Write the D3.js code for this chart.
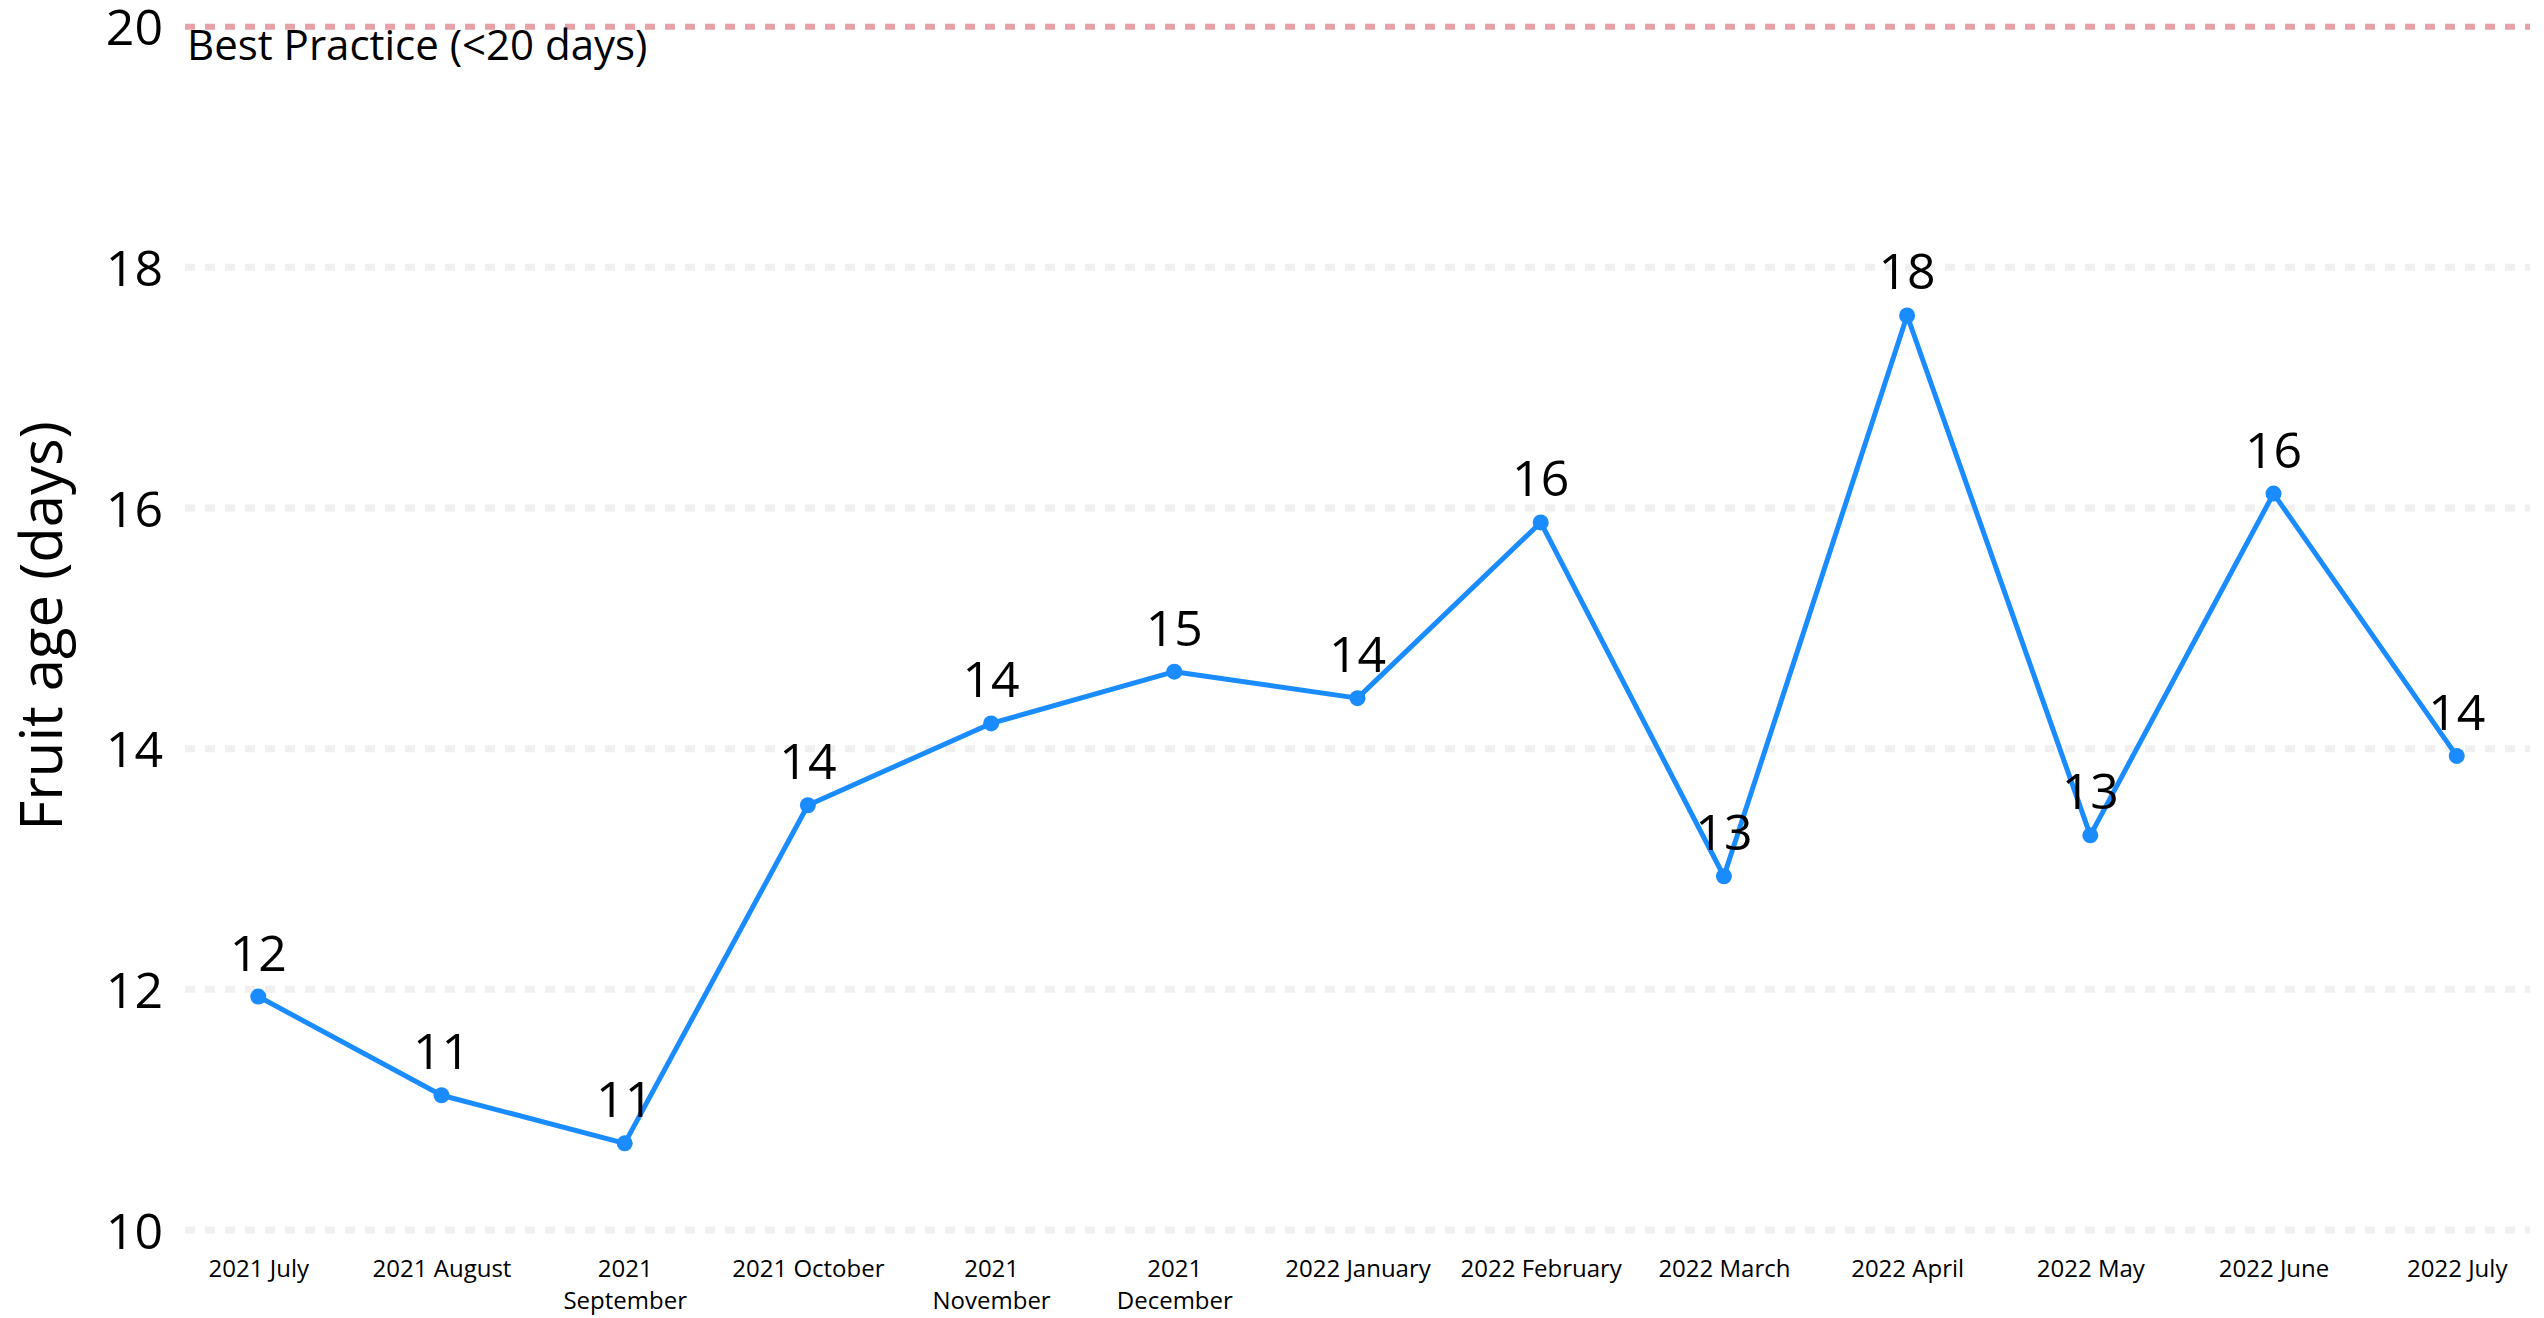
<!DOCTYPE html>
<html>
<head>
<meta charset="utf-8">
<script src="https://cdn.jsdelivr.net/npm/d3@7"></script>
<style>
  html, body { margin: 0; padding: 0; background: #ffffff; }
  svg { display: block; }
  text { font-family: "Open Sans", "Noto Sans", sans-serif; fill: #000; }
</style>
</head>
<body>
<script>
// ---- data ----
const categories = ["2021 July", "2021 August", "2021 September", "2021 October", "2021 November",
  "2021 December", "2022 January", "2022 February", "2022 March", "2022 April", "2022 May",
  "2022 June", "2022 July"];
const values = [11.94, 11.12, 10.72, 13.53, 14.21, 14.64, 14.42, 15.88, 12.94, 17.60, 13.28, 16.12, 13.94];
const yTicks = [10, 12, 14, 16, 18, 20];
const bestPractice = 20;
const bestPracticeLabel = "Best Practice (<20 days)";
const yTitle = "Fruit age (days)";

// ---- layout ----
const W = 2544, H = 1318;
const mLeft = 185, mRight = 2530, mTop = 26.7, mBottom = 1230;

const svg = d3.select("body").append("svg").attr("width", W).attr("height", H);

const x = d3.scalePoint().domain(categories).range([mLeft, mRight]).padding(0.4);
const y = d3.scaleLinear().domain([10, 20]).range([mBottom, mTop]);

// gridlines (except best practice line)
svg.append("g").selectAll("line")
  .data(yTicks.filter(t => t !== bestPractice))
  .join("line")
  .attr("x1", mLeft).attr("x2", mRight)
  .attr("y1", d => y(d)).attr("y2", d => y(d))
  .attr("stroke", "#f1f0ef").attr("stroke-width", 7).attr("stroke-dasharray", "10,10");

// best practice line
svg.append("line")
  .attr("x1", mLeft).attr("x2", mRight)
  .attr("y1", y(bestPractice)).attr("y2", y(bestPractice))
  .attr("stroke", "#e6a2a6").attr("stroke-width", 6).attr("stroke-dasharray", "10,10");

svg.append("text")
  .attr("x", 187).attr("y", 60)
  .attr("font-size", 42)
  .text(bestPracticeLabel);

// y axis
const yAxis = d3.axisLeft(y).tickValues(yTicks).tickSize(0).tickPadding(22).tickFormat(d3.format("d"));
const gy = svg.append("g").attr("transform", `translate(${mLeft},0)`).call(yAxis);
gy.select(".domain").remove();
gy.selectAll("text").attr("font-size", 50).attr("font-family", "Open Sans").attr("fill", "#000")
  .attr("dy", "0.36em").attr("x", -22);

// x axis
const xAxis = d3.axisBottom(x).tickSize(0).tickPadding(0);
const gx = svg.append("g").attr("transform", `translate(0,${mBottom})`).call(xAxis);
gx.select(".domain").remove();
gx.selectAll("text")
  .attr("font-size", 24).attr("font-family", "Open Sans").attr("fill", "#000")
  .attr("y", 47).attr("dy", 0)
  .each(function(d) {
    const t = d3.select(this);
    const w = this.getComputedTextLength();
    if (w > 170) {
      const parts = d.split(" ");
      t.text(null);
      t.append("tspan").attr("x", 0).attr("dy", 0).text(parts[0]);
      t.append("tspan").attr("x", 0).attr("dy", 32).text(parts.slice(1).join(" "));
    }
  });

// y title
svg.append("text")
  .attr("transform", `translate(62,626) rotate(-90)`)
  .attr("text-anchor", "middle")
  .attr("font-size", 58)
  .text(yTitle);

// line
const pts = categories.map((c, i) => ({ c, v: values[i] }));
svg.append("path")
  .datum(pts)
  .attr("fill", "none")
  .attr("stroke", "#1a8cff")
  .attr("stroke-width", 5)
  .attr("stroke-linejoin", "round")
  .attr("d", d3.line().x(d => x(d.c)).y(d => y(d.v)));

svg.append("g").selectAll("circle")
  .data(pts).join("circle")
  .attr("cx", d => x(d.c)).attr("cy", d => y(d.v))
  .attr("r", 8).attr("fill", "#1a8cff");

svg.append("g").selectAll("text")
  .data(pts).join("text")
  .attr("x", d => x(d.c)).attr("y", d => y(d.v) - 26)
  .attr("text-anchor", "middle")
  .attr("font-size", 50)
  .text(d => d3.format(".0f")(d.v));
</script>
</body>
</html>
